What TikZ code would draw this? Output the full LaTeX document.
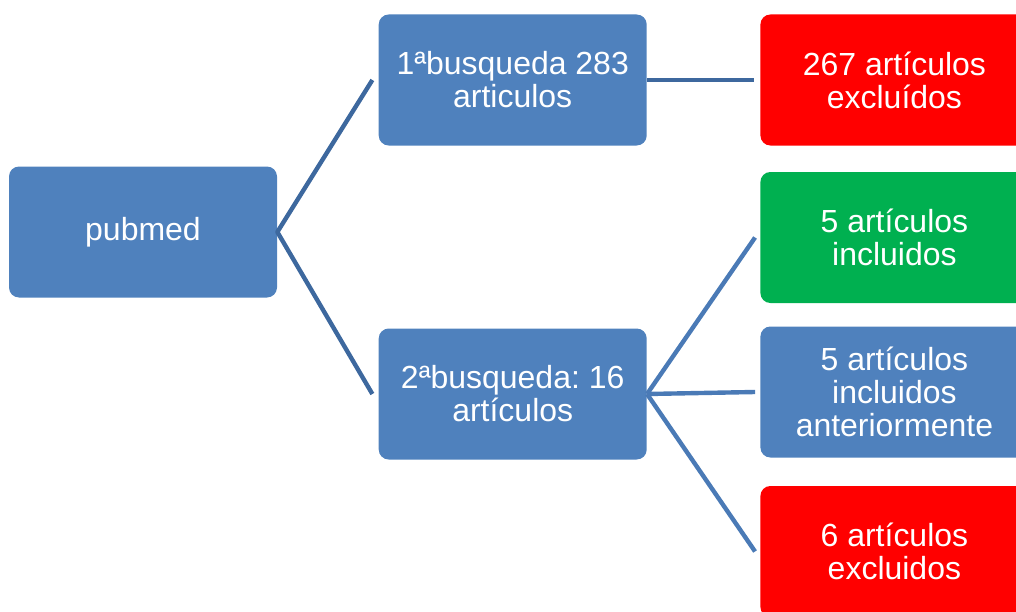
\documentclass[tikz,border=0pt]{standalone}
\usepackage{fontspec}
\setmainfont{Liberation Sans}
\usepackage{tikz}
\usetikzlibrary{positioning}
\definecolor{boxblue}{RGB}{79,129,189}
\definecolor{boxred}{RGB}{255,0,0}
\definecolor{boxgreen}{RGB}{0,176,80}
\definecolor{linkdark}{RGB}{61,104,158}
\definecolor{linkblue}{RGB}{74,122,182}
\frenchspacing

\begin{document}
\begin{tikzpicture}[
    every node/.style = {font=\fontsize{18.2}{18.8}\selectfont, text=white},
    treebox/.style    = {rounded corners=0.2cm, minimum width=5.36cm,
                         minimum height=2.62cm, align=center, inner sep=0pt},
    bluebox/.style    = {treebox, fill=boxblue},
    redbox/.style     = {treebox, fill=boxred},
    greenbox/.style   = {treebox, fill=boxgreen},
    link/.style       = {line width=2.5pt, linkdark, line join=round},
    sublink/.style    = {line width=2.5pt, linkblue},
]
\useasboundingbox (0,0) rectangle (20.32,-12.24);
\clip (0,0) rectangle (20.32,-12.24);

% Root
\node[bluebox] (pubmed) at (2.86,-4.64) {pubmed};

% Searches
\node[bluebox, right=2.02cm of pubmed, yshift= 3.04cm] (busq1) {1ªbusqueda 283\\articulos};
\node[bluebox, right=2.02cm of pubmed, yshift=-3.24cm] (busq2) {2ªbusqueda: 16\\artículos};

% Results
\node[redbox,   right=2.26cm of busq1] (excl1) {267 artículos\\excluídos};
\node[greenbox, right=2.26cm of busq2, yshift= 3.13cm] (incl)  {5 artículos\\incluidos};
\node[bluebox,  right=2.26cm of busq2, yshift= 0.04cm] (prev)  {5 artículos\\incluidos\\anteriormente};
\node[redbox,   right=2.26cm of busq2, yshift=-3.15cm] (excl2) {6 artículos\\excluidos};

% Links
\draw[link] ([xshift=-0.12cm]busq1.west) -- (pubmed.east) -- ([xshift=-0.12cm]busq2.west);
\draw[link] (busq1.east) -- ([xshift=-0.12cm]excl1.west);
\foreach \R in {incl,prev,excl2}{
  \draw[sublink] (busq2.east) -- ([xshift=-0.1cm]\R.west);
}

\end{tikzpicture}
\end{document}
